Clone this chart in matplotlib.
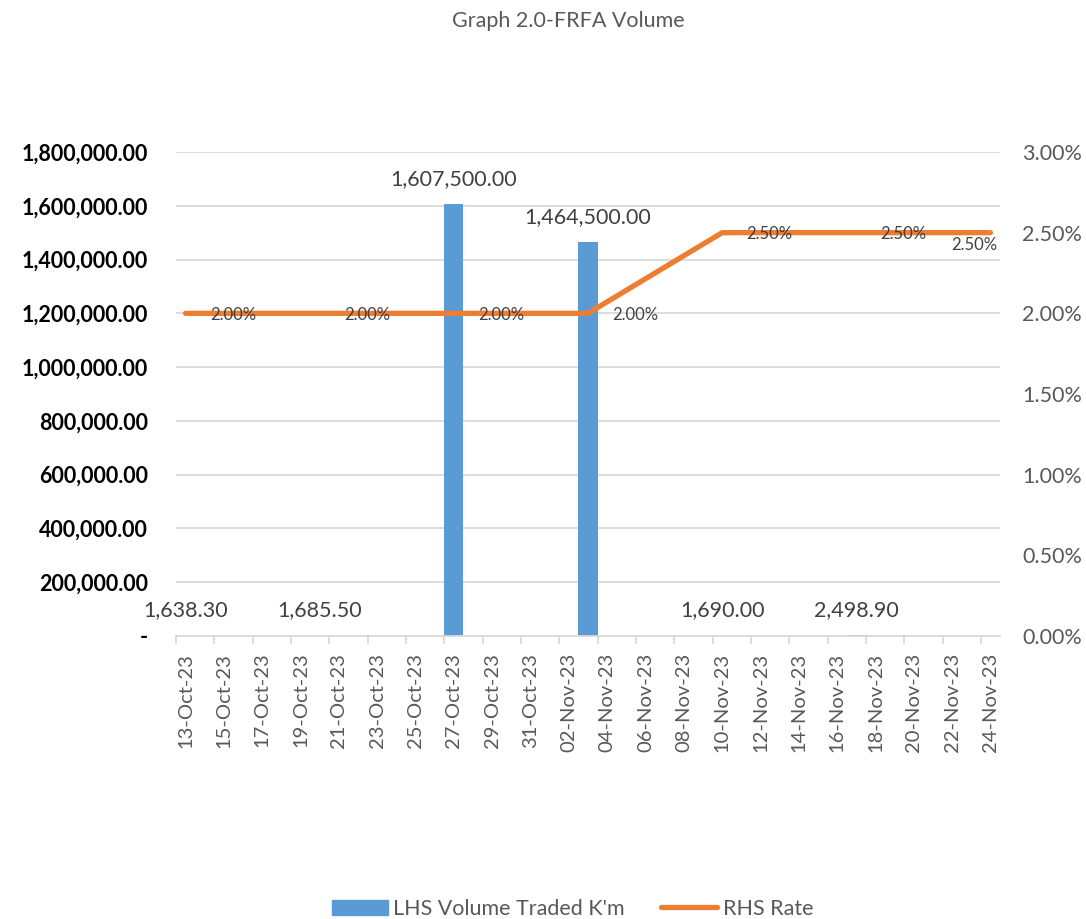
import matplotlib
matplotlib.use("Agg")
import matplotlib.pyplot as plt
import matplotlib.dates as mdates
import numpy as np
from matplotlib.ticker import FixedLocator, FuncFormatter
from matplotlib.patches import Patch
from matplotlib.lines import Line2D
from datetime import datetime

plt.rcParams['font.family'] = ['Lato', 'DejaVu Sans']

dates = ["2023-10-13", "2023-10-20", "2023-10-27", "2023-11-03",
         "2023-11-10", "2023-11-17", "2023-11-24"]
volume = [1638.30, 1685.50, 1607500.00, 1464500.00, 1690.00, 2498.90, np.nan]
rate = [2.00, 2.00, 2.00, 2.00, 2.50, 2.50, 2.50]
left_ticks = [0, 200000, 400000, 600000, 800000, 1000000, 1200000, 1400000, 1600000, 1800000]
right_ticks = [0.0, 0.5, 1.0, 1.5, 2.0, 2.5, 3.0]
title = "Graph 2.0-FRFA Volume"
bar_name = "LHS Volume Traded K'm"
line_name = "RHS Rate"

BLUE = "#5B9BD5"
ORANGE = "#ED7D31"
GREY = "#595959"
GRID = "#D9D9D9"

d = mdates.date2num([datetime.strptime(s, "%Y-%m-%d") for s in dates])

fig = plt.figure(figsize=(10.86, 9.19), dpi=100)
ax = fig.add_axes([176/1086, 1-636/919, (1000-176)/1086, (636-152)/919])
ax2 = ax.twinx()

vol_arr = np.array(volume, dtype=float)
mask = ~np.isnan(vol_arr)
ax.bar(d[mask], vol_arr[mask], width=1.0, color=BLUE, zorder=2)
ax.set_ylim(0, 1800000)
ax.set_xlim(d[0]-0.5, d[-1]+0.5)
ax.yaxis.set_major_locator(FixedLocator(left_ticks))
ax.yaxis.set_major_formatter(FuncFormatter(lambda v, p: "-" if v == 0 else f"{v:,.2f}"))
ax.grid(axis='y', color=GRID, linewidth=1.3, zorder=0)
ax.set_axisbelow(True)
for s in ["top", "right", "left"]:
    ax.spines[s].set_visible(False)
ax.spines["bottom"].set_color(GRID)
ax.spines["bottom"].set_linewidth(1.3)
ax.tick_params(axis='y', length=0, labelsize=15.5, labelcolor="black", pad=20)
for lab in ax.get_yticklabels():
    lab.set_fontweight("bold")

# x ticks: boundaries every 2 days, labels at slot centres
start = d[0]
tick_edges = np.arange(start-0.5, d[-1]+0.6, 2)
label_pos = np.arange(start, d[-1]+0.1, 2)
ax.set_xticks(tick_edges)
ax.set_xticklabels([])
ax.set_xticks(label_pos, minor=True)
ax.set_xticklabels([mdates.num2date(x).strftime("%d-%b-%y") for x in label_pos],
                   minor=True, rotation=90)
ax.tick_params(axis='x', which='major', length=6, color=GRID, width=1.3)
ax.tick_params(axis='x', which='minor', length=0, labelsize=14.5, labelcolor=GREY, pad=12)

# bar labels
for x, v in zip(d, volume):
    if not np.isnan(v):
        ax.annotate(f"{v:,.2f}", (x, v), xytext=(0, 18), textcoords="offset points",
                    ha="center", va="center", fontsize=15.5, color="#404040")

ax2.plot(d, rate, color=ORANGE, linewidth=3.8, solid_capstyle="round", zorder=3)
ax2.set_ylim(0, 3.0)
ax2.yaxis.set_major_locator(FixedLocator(right_ticks))
ax2.yaxis.set_major_formatter(FuncFormatter(lambda v, p: f"{v:.2f}%"))
for s in ["top", "right", "left", "bottom"]:
    ax2.spines[s].set_visible(False)
ax2.tick_params(axis='y', length=0, labelsize=15.5, labelcolor=GREY, pad=16)

for i, (x, r) in enumerate(zip(d, rate)):
    if i == len(d)-1:
        off = (-12, -9)
    else:
        off = (34, -1)
    ax2.annotate(f"{r:.2f}%", (x, r), xytext=off, textcoords="offset points",
                 ha="center", va="center", fontsize=12, color="#404040")

fig.text(568/1086, 1-21/919, title, ha="center", va="center", fontsize=15.5, color=GREY)

handles = [Patch(facecolor=BLUE, edgecolor=BLUE),
           Line2D([0], [0], color=ORANGE, linewidth=3.8, solid_capstyle="round")]
fig.legend(handles, [bar_name, line_name], loc="center", bbox_to_anchor=(0.527, 1-909/919),
           ncol=2, frameon=False, fontsize=15.5, labelcolor=GREY, handlelength=2.6,
           handleheight=0.7, handletextpad=0.25, columnspacing=1.7)

fig.savefig("out.png", dpi=100)
